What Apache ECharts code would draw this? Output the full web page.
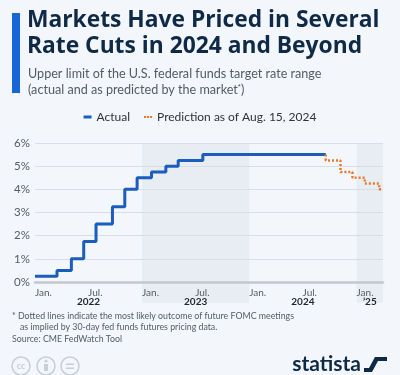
<!DOCTYPE html>
<html>
<head>
<meta charset="utf-8">
<script src="https://cdn.jsdelivr.net/npm/echarts@6/dist/echarts.min.js"></script>
<style>
  html, body { margin: 0; padding: 0; background: #f3f6fa; }
  #chart { width: 400px; height: 375px; }
</style>
</head>
<body>
<div id="chart"></div>
<script>
// actual upper limit of the fed funds target range (change dates)
const actualDates = ['2022-01-01', '2022-03-17', '2022-05-05', '2022-06-16', '2022-07-28', '2022-09-22',
  '2022-11-03', '2022-12-15', '2023-02-02', '2023-03-23', '2023-05-04', '2023-07-27', '2024-09-18'];
const actualRates = [0.25, 0.5, 1, 1.75, 2.5, 3.25, 4, 4.5, 4.75, 5, 5.25, 5.5, 5.5];

// market prediction as of Aug. 15, 2024
const predDates = ['2024-09-18', '2024-09-18', '2024-11-07', '2024-12-18', '2025-01-29', '2025-03-19', '2025-04-01'];
const predRates = [5.5, 5.25, 4.75, 4.5, 4.25, 4, 4];

const yTicks = [0, 1, 2, 3, 4, 5, 6];
const monthTicks = ['2022-01-01', '2022-07-01', '2023-01-01', '2023-07-01', '2024-01-01', '2024-07-01', '2025-01-01'];
const monthLabels = ['Jan.', 'Jul.', 'Jan.', 'Jul.', 'Jan.', 'Jul.', 'Jan.'];
const years = [2022, 2023, 2024, 2025];
const yearLabels = ['2022', '2023', '2024', '\u201925'];
const shadedYears = [2023, 2025];

const t = (d) => +new Date(d);
const xMin = t('2022-01-01');
const xMax = t('2025-04-01');

const monthVals = monthTicks.map(t);
const yearMid = years.map((y) => {
  const a = Math.max(t(y + '-01-01'), xMin);
  const b = Math.min(t((y + 1) + '-01-01'), xMax);
  return (a + b) / 2;
});
const bands = shadedYears.map((y) => [t(y + '-01-01'), Math.min(t((y + 1) + '-01-01'), xMax)]);

const FONT = 'Lato';
const TITLE_FONT = '"Open Sans"';
const chart = echarts.init(document.getElementById('chart'));

const option = {
  backgroundColor: '#f3f6fa',
  animation: false,
  textStyle: { fontFamily: FONT },
  grid: { left: 35, right: 17, top: 143, bottom: 93 },
  legend: {
    top: 106,
    left: 'center',
    itemWidth: 8,
    itemHeight: 3,
    itemGap: 14,
    textStyle: { fontSize: 12, color: '#333', fontFamily: FONT },
    data: [
      { name: 'Actual', icon: 'rect' },
      { name: 'Prediction as of Aug. 15, 2024', icon: 'path://M0,0h2v2h-2z M3,0h2v2h-2z M6,0h2v2h-2z' }
    ]
  },
  xAxis: [
    {
      type: 'value',
      min: xMin,
      max: xMax,
      axisLine: { lineStyle: { color: '#c3c8ce', width: 2.5 } },
      axisTick: { show: false },
      splitLine: { show: false },
      axisLabel: {
        customValues: monthVals,
        formatter: (v) => monthLabels[monthVals.indexOf(v)] || '',
        align: 'left',
        margin: 6,
        fontSize: 10,
        color: '#555b63',
        fontFamily: FONT
      }
    },
    {
      type: 'value',
      min: xMin,
      max: xMax,
      position: 'bottom',
      axisLine: { show: false },
      axisTick: { show: false },
      splitLine: { show: false },
      axisLabel: {
        customValues: yearMid,
        formatter: (v) => yearLabels[yearMid.indexOf(v)] || '',
        margin: 15,
        fontSize: 10,
        fontWeight: 'bold',
        color: '#1d2733',
        fontFamily: FONT
      }
    }
  ],
  yAxis: {
    type: 'value',
    min: 0,
    max: 6,
    interval: 1,
    axisLine: { show: false },
    axisTick: { show: false },
    splitLine: { lineStyle: { color: '#d9dee4', width: 1 } },
    axisLabel: {
      formatter: '{value}%',
      margin: 5,
      fontSize: 11.5,
      color: '#555b63',
      fontFamily: FONT
    }
  },
  series: [
    {
      type: 'custom',
      z: -1,
      silent: true,
      data: bands,
      renderItem: (params, api) => {
        const p1 = api.coord([api.value(0), 6]);
        const p2 = api.coord([api.value(1), -0.9]);
        return {
          type: 'rect',
          shape: { x: p1[0], y: p1[1], width: p2[0] - p1[0], height: p2[1] - p1[1] },
          style: { fill: '#e8edf3' }
        };
      }
    },
    {
      name: 'Actual',
      type: 'line',
      step: 'end',
      symbol: 'none',
      lineStyle: { color: '#1b5cbf', width: 3 },
      itemStyle: { color: '#1b5cbf' },
      data: actualDates.map((d, i) => [t(d), actualRates[i]])
    },
    {
      name: 'Prediction as of Aug. 15, 2024',
      type: 'line',
      step: 'end',
      symbol: 'none',
      lineStyle: { color: '#e8782e', width: 2.5, type: [2, 2] },
      itemStyle: { color: '#e8782e' },
      data: predDates.map((d, i) => [t(d), predRates[i]])
    }
  ],
  graphic: [
    { type: 'rect', shape: { x: 12, y: 13, width: 8, height: 80 }, style: { fill: '#1865d9' } },
    {
      type: 'text', x: 27, y: 21,
      style: { text: 'Markets Have Priced in Several', font: 'bold 22.8px ' + TITLE_FONT, fill: '#0e2a47', textVerticalAlign: 'middle' }
    },
    {
      type: 'text', x: 27, y: 47,
      style: { text: 'Rate Cuts in 2024 and Beyond', font: 'bold 22.8px ' + TITLE_FONT, fill: '#0e2a47', textVerticalAlign: 'middle' }
    },
    {
      type: 'text', x: 28, y: 74,
      style: { text: 'Upper limit of the U.S. federal funds target rate range', font: '12.6px ' + FONT, fill: '#555b63', textVerticalAlign: 'middle' }
    },
    {
      type: 'text', x: 28, y: 90,
      style: {
        text: '(actual and as predicted by the market{s|*})',
        font: '12.6px ' + FONT, fill: '#555b63', textVerticalAlign: 'middle',
        rich: { s: { fontSize: 8, verticalAlign: 'top', padding: [0, 0, 6, 0], fill: '#555b63' } }
      }
    },
    {
      type: 'text', x: 12, y: 316,
      style: { text: '* Dotted lines indicate the most likely outcome of future FOMC meetings', font: '8.8px ' + FONT, fill: '#555b63', textVerticalAlign: 'middle' }
    },
    {
      type: 'text', x: 20, y: 327,
      style: { text: 'as implied by 30-day fed funds futures pricing data.', font: '8.8px ' + FONT, fill: '#555b63', textVerticalAlign: 'middle' }
    },
    {
      type: 'text', x: 12, y: 339,
      style: { text: 'Source: CME FedWatch Tool', font: '8.8px ' + FONT, fill: '#555b63', textVerticalAlign: 'middle' }
    },
    { type: 'circle', shape: { cx: 21, cy: 366, r: 9 }, style: { fill: 'none', stroke: '#c9ced4', lineWidth: 1.5 } },
    { type: 'text', x: 21, y: 366, style: { text: 'cc', font: 'bold 9px ' + FONT, fill: '#c9ced4', textAlign: 'center', textVerticalAlign: 'middle' } },
    { type: 'circle', shape: { cx: 46, cy: 366, r: 9 }, style: { fill: 'none', stroke: '#c9ced4', lineWidth: 1.5 } },
    { type: 'circle', shape: { cx: 46, cy: 361, r: 1.6 }, style: { fill: '#c9ced4' } },
    { type: 'rect', shape: { x: 44, y: 364, width: 4, height: 7 }, style: { fill: '#c9ced4' } },
    { type: 'circle', shape: { cx: 70, cy: 366, r: 9 }, style: { fill: 'none', stroke: '#c9ced4', lineWidth: 1.5 } },
    { type: 'rect', shape: { x: 66, y: 363.5, width: 8, height: 1.5 }, style: { fill: '#c9ced4' } },
    { type: 'rect', shape: { x: 66, y: 367.5, width: 8, height: 1.5 }, style: { fill: '#c9ced4' } },
    {
      type: 'text', x: 361, y: 364,
      style: { text: 'statista', font: 'bold 21px ' + FONT, fill: '#0e2a47', textAlign: 'right', textVerticalAlign: 'middle' }
    },
    {
      type: 'polygon',
      shape: { points: [[364, 357], [387, 357], [387, 361], [378, 361], [372, 372], [364, 372], [364, 368], [369, 368], [375, 357]] },
      style: { fill: '#0e2a47' }
    }
  ]
};

chart.setOption(option);
</script>
</body>
</html>
